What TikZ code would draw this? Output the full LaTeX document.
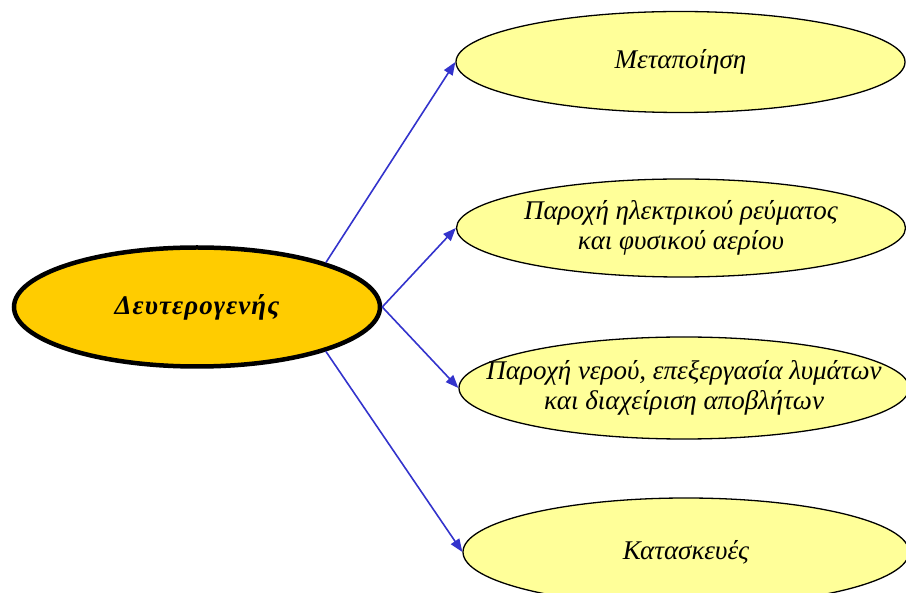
\documentclass[tikz,border=0pt]{standalone}
\usepackage{fontspec}
\setmainfont{Liberation Serif}
\usetikzlibrary{arrows.meta,shapes.geometric}
\definecolor{mainfill}{HTML}{FFCC00}
\definecolor{subfill}{HTML}{FFFF99}
\definecolor{arrowblue}{HTML}{3333CC}
\begin{document}
\begin{tikzpicture}[x=1pt,y=-1pt,
  mainbox/.style={ellipse,draw=black,line width=4.5pt,fill=mainfill,minimum width=366pt,minimum height=119pt,inner sep=0pt,
    font=\fontsize{27}{30}\selectfont\bfseries\itshape\addfontfeatures{LetterSpace=4}},
  subbox/.style={ellipse,draw=black,line width=1.3pt,fill=subfill,inner xsep=-100pt,inner ysep=0pt,align=center,
    font=\fontsize{27}{30}\selectfont\itshape},
  arr/.style={draw=arrowblue,line width=1.6pt,-{Triangle[length=13pt,width=10pt]}}]
\useasboundingbox (0,0) rectangle (906,593);
\node[mainbox] (m) at (197,307) {Δευτερογενής};
\node[subbox,minimum width=449pt,minimum height=101pt] (e1) at (680.5,62) {Μεταποίηση};
\node[subbox,minimum width=449pt,minimum height=98pt] (e2) at (681,228) {Παροχή ηλεκτρικού ρεύματος\\και φυσικού αερίου};
\node[subbox,minimum width=450pt,minimum height=102pt] (e3) at (684,388) {Παροχή νερού, επεξεργασία λυμάτων\\και διαχείριση αποβλήτων};
\node[subbox,minimum width=446pt,minimum height=108pt] (e4) at (686,552) {Κατασκευές};
\draw[arr] (m.19) -- (e1.west);
\draw[arr] (m.east) -- (e2.west);
\draw[arr] (m.east) -- (e3.west);
\draw[arr] (m.-19) -- (e4.west);
\end{tikzpicture}
\end{document}
